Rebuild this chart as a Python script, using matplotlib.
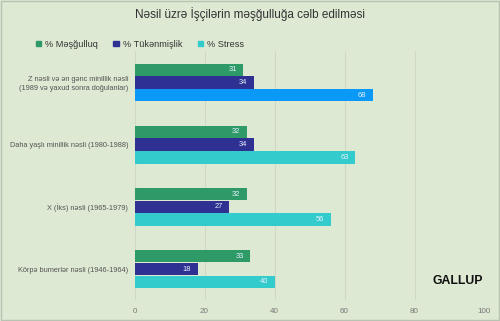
import matplotlib.pyplot as plt
import numpy as np

plt.rcParams['font.family'] = ['Liberation Sans', 'DejaVu Sans']

# Datos
categorias = [
    "Z nəsli və ən gənc minillik nəsli\n(1989 və yaxud sonra doğulanlar)",
    "Daha yaşlı minillik nəsli (1980-1988)",
    "X (İks) nəsli (1965-1979)",
    "Körpə bumerlər nəsli (1946-1964)",
]
mesgulluq = [31, 32, 32, 33]
tukenmislik = [34, 34, 27, 18]
stress = [68, 63, 56, 40]
series_names = ["% Məşğulluq", "% Tükənmişlik", "% Stress"]
x_ticks = [0, 20, 40, 60, 80, 100]

BG = "#dde9d3"
GREEN = "#2e9a68"
NAVY = "#2e3192"
CYAN = "#33cbcb"
BLUE = "#0a99f7"

fig = plt.figure(figsize=(5.0, 3.21), dpi=100, facecolor=BG)
ax = fig.add_axes([0.269, 0.065, 0.70, 0.775], facecolor=BG)

y = np.arange(len(categorias))
h = 0.205
offsets = [-h, 0, h]
colors = [GREEN, NAVY, CYAN]

for vals, off, col, name in zip([mesgulluq, tukenmislik, stress], offsets, colors, series_names):
    bar_cols = [col] * len(vals)
    if col == CYAN:
        bar_cols[0] = BLUE  # primer grupo resaltado
    bars = ax.barh(y + off, vals, height=h * 0.97, color=bar_cols, label=name, zorder=3)
    for b, v in zip(bars, vals):
        ax.text(v - 1.8, b.get_y() + b.get_height() / 2, str(v), ha="right", va="center",
                fontsize=5.4, color="#e8f0ff", zorder=4)

ax.set_xlim(0, 100)
ax.set_ylim(3.5, -0.5)
ax.set_xticks(x_ticks)
ax.tick_params(axis="x", length=0, labelsize=5.8, labelcolor="#777777", pad=6)
ax.set_yticks(y)
ax.set_yticklabels(categorias, fontsize=5.3, color="#555555", linespacing=1.35)
ax.tick_params(axis="y", length=0, pad=4.5)
ax.grid(axis="x", color="#cfd8c8", linewidth=0.8, zorder=0)
for s in ax.spines.values():
    s.set_visible(False)

fig.text(0.5, 0.955, "Nəsil üzrə İşçilərin məşğulluğa cəlb edilməsi", ha="center", va="center",
         fontsize=8.5, color="#333333")

handles = [plt.Rectangle((0, 0), 1, 1, color=c) for c in colors]
leg = fig.legend(handles, series_names, loc="center left", bbox_to_anchor=(0.055, 0.862), ncol=3,
                 frameon=False, fontsize=6.6, handlelength=0.6, handleheight=0.6,
                 handletextpad=0.4, columnspacing=1.7)
for t in leg.get_texts():
    t.set_color("#333333")

fig.text(0.966, 0.125, "GALLUP", ha="right", va="center", fontsize=8.8, fontweight="bold",
         color="#111111")

# borde
fig.patches.append(plt.Rectangle((0.002, 0.003), 0.996, 0.994, transform=fig.transFigure,
                                 fill=False, edgecolor="#b8c4b2", linewidth=1))

plt.savefig("out.png", dpi=100, facecolor=BG)
